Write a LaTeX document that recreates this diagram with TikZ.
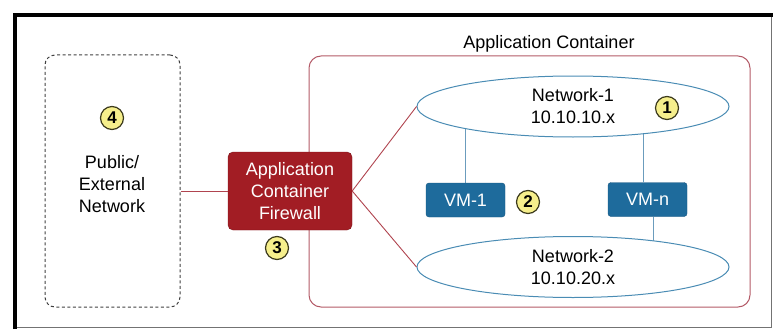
\documentclass[tikz,border=0pt]{standalone}
\usepackage{fontspec}
\setmainfont{Liberation Sans}
\usetikzlibrary{shapes.geometric,backgrounds}

\definecolor{fwred}{HTML}{A21D24}
\definecolor{fwedge}{HTML}{7C1218}
\definecolor{vmblue}{HTML}{1E6B9C}
\definecolor{vmedge}{HTML}{16557F}
\definecolor{netline}{HTML}{4A8CB4}
\definecolor{vmline}{HTML}{6B9CBD}
\definecolor{boxred}{HTML}{B35A67}
\definecolor{fwline}{HTML}{B0444F}
\definecolor{badgefill}{HTML}{F6EF8C}
\definecolor{badgeline}{HTML}{3C3A1C}

\begin{document}
\begin{tikzpicture}[x=1pt,y=-1pt,
  every node/.style={font=\fontsize{18}{22}\selectfont, align=center},
  badge/.style={circle, draw=badgeline, line width=1.2pt, fill=badgefill, inner sep=0pt,
    minimum size=23pt, font=\fontsize{17}{17}\selectfont\bfseries},
  vmbox/.style={rounded corners=3pt, fill=vmblue, draw=vmedge, text=white,
    minimum width=79pt, minimum height=34pt, inner sep=0pt},
  netnode/.style={ellipse, draw=netline, line width=1pt, fill=white,
    minimum width=312pt, minimum height=61pt, inner sep=0pt}]

\useasboundingbox (0,0) rectangle (773,329);

% Frame
\draw[black!55] (771,15) -- (771,327) -- (15,327);
\draw[line width=4pt] (15,329) -- (15,15) -- (773,15);

% Public network
\node[draw=black!75, dash pattern=on 3pt off 2.5pt, line width=1pt, rounded corners=10pt,
  minimum width=135pt, minimum height=252pt] (ext) at (112.5,181) {};
\node (exttext) at (112,184) {Public/\\External\\Network};
\node[badge] (b4) at (112,118) {4};

% Application container
\node[draw=boxred, line width=1pt, rounded corners=12pt,
  minimum width=441pt, minimum height=251pt] (app) at (529.5,181.5) {};
\node (applabel) at (549,44) {Application Container};

% Firewall
\node[fill=fwred, draw=fwedge, rounded corners=5pt, text=white, inner sep=0pt,
  minimum width=124pt, minimum height=78pt] (fw) at (290,191) {Application\\Container\\Firewall};
\node[badge] (b3) at (277,248) {3};

% Networks
\node[netnode] (net1) at (573,106.5) {Network-1\\10.10.10.x};
\node[netnode] (net2) at (573,267) {Network-2\\10.10.20.x};
\node[badge] (b1) at (667,108) {1};

% VMs
\node[vmbox] (vm1) at (465.5,200) {VM-1};
\node[vmbox] (vmn) at (647.5,199.5) {VM-n};
\node[badge] (b2) at (528,202) {2};

% Links
\draw[fwline, line width=0.9pt] (ext.east |- fw.west) -- (fw.west);
\draw[fwline, line width=0.9pt] (fw.east) -- (net1.west);
\draw[fwline, line width=0.9pt] (fw.east) -- (net2.west);
\begin{scope}[on background layer]
\draw[vmline, line width=1pt] (vm1.north) -- (vm1.north |- net1.center);
\draw[vmline, line width=1pt] ([xshift=-4.5pt]vmn.north) -- ([xshift=-4.5pt]vmn.north |- net1.center);
\draw[vmline, line width=1pt] ([xshift=5.5pt]vmn.south) -- ([xshift=5.5pt]vmn.south |- net2.center);
\end{scope}
\end{tikzpicture}
\end{document}
